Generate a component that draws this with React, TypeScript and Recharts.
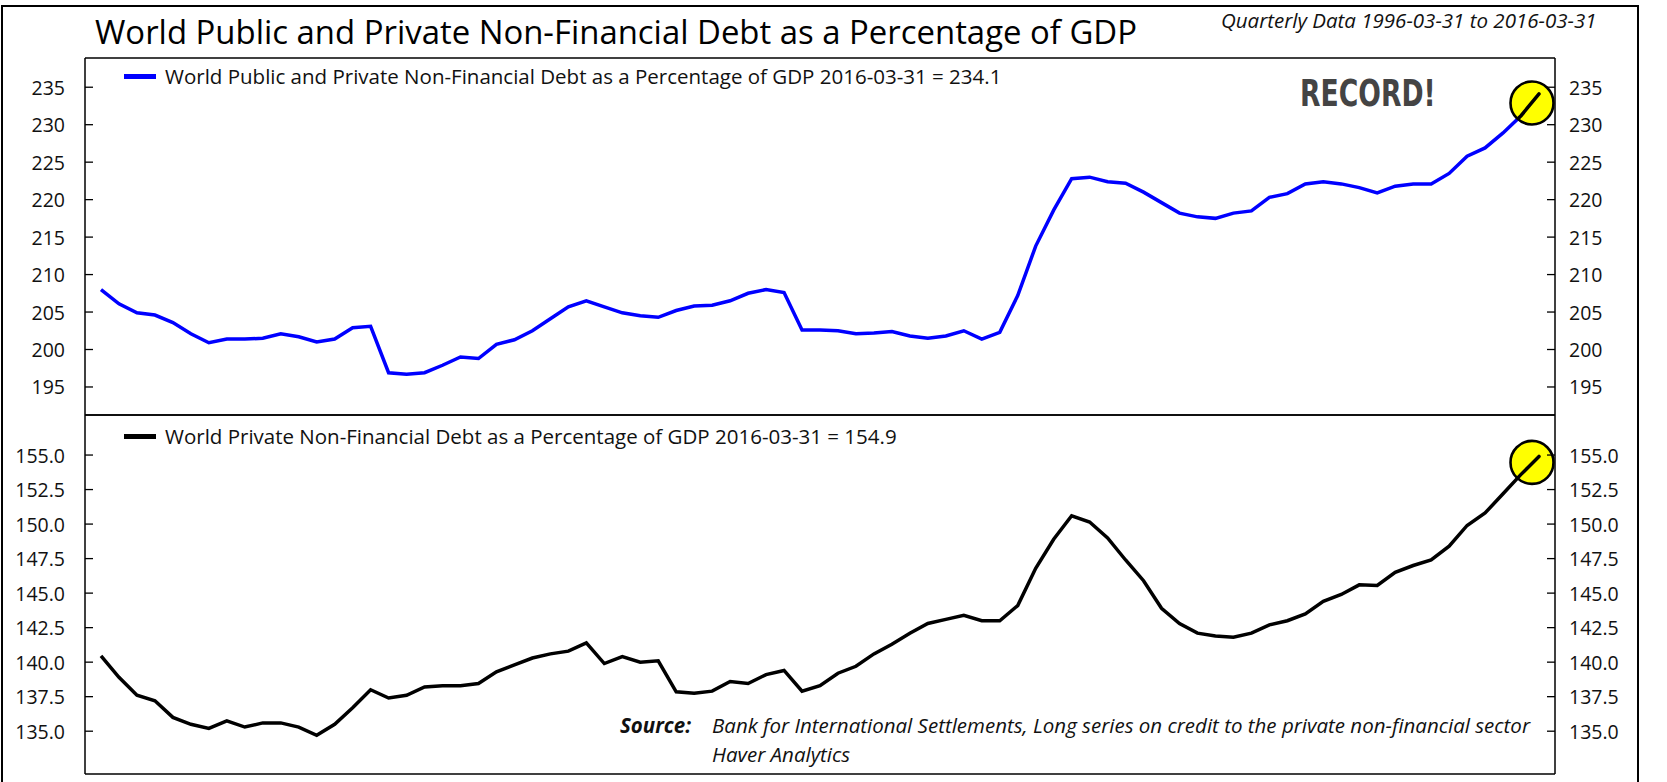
import React from "react"
import { LineChart, Line, XAxis, YAxis } from "recharts"

// quarterly dates 1996-03-31 .. 2016-03-31
const QUARTER_ENDS = ["03-31", "06-30", "09-30", "12-31"]
const dates: string[] = []
for (let y = 1996; y <= 2016; y++) {
  for (const q of QUARTER_ENDS) {
    if (y === 2016 && q !== "03-31") break
    dates.push(`${y}-${q}`)
  }
}

// World public + private non-financial debt, % of GDP
const totalDebt = [
  208.0, 206.1, 204.9, 204.6, 203.6, 202.1, 200.9, 201.4, 201.4, 201.5,
  202.1, 201.7, 201.0, 201.4, 202.9, 203.1, 196.9, 196.7, 196.9, 197.9,
  199.0, 198.8, 200.7, 201.3, 202.5, 204.1, 205.7, 206.5, 205.7, 204.9,
  204.5, 204.3, 205.2, 205.8, 205.9, 206.5, 207.5, 208.0, 207.6, 202.6,
  202.6, 202.5, 202.1, 202.2, 202.4, 201.8, 201.5, 201.8, 202.5, 201.4,
  202.3, 207.2, 213.8, 218.6, 222.8, 223.0, 222.4, 222.2, 221.0, 219.6,
  218.2, 217.7, 217.5, 218.2, 218.5, 220.3, 220.8, 222.1, 222.4, 222.1,
  221.6, 220.9, 221.8, 222.1, 222.1, 223.5, 225.8, 226.9, 228.9, 231.2,
  234.1,
]

// World private non-financial debt, % of GDP
const privateDebt = [
  140.45, 138.9, 137.6, 137.2, 136.0, 135.5, 135.2, 135.75, 135.3, 135.6,
  135.6, 135.3, 134.7, 135.5, 136.7, 138.0, 137.4, 137.6, 138.2, 138.3,
  138.3, 138.45, 139.3, 139.8, 140.3, 140.6, 140.8, 141.4, 139.9, 140.4,
  140.0, 140.1, 137.85, 137.75, 137.9, 138.6, 138.45, 139.1, 139.4, 137.9,
  138.3, 139.2, 139.7, 140.6, 141.3, 142.1, 142.8, 143.1, 143.4, 143.0,
  143.0, 144.1, 146.8, 148.9, 150.6, 150.15, 149.0, 147.4, 145.9, 143.9,
  142.8, 142.1, 141.9, 141.8, 142.1, 142.7, 143.0, 143.5, 144.4, 144.9,
  145.6, 145.55, 146.5, 147.0, 147.4, 148.4, 149.9, 150.8, 152.2, 153.6,
  154.9,
]

const topTicks = [195, 200, 205, 210, 215, 220, 225, 230, 235]
const bottomTicks = [135, 137.5, 140, 142.5, 145, 147.5, 150, 152.5, 155]

const last = dates.length - 1
const data = dates.map((date, i) => ({ date, total: totalDebt[i], priv: privateDebt[i] }))

const FONT = "'Open Sans', Lato, sans-serif"
const W = 1667

function LeftTick({ x, y, payload, digits }: any) {
  return (
    <g>
      <line x1={x} x2={x + 8} y1={y} y2={y} stroke="#000" strokeWidth={1.3} />
      <text x={x - 20} y={y} textAnchor="end" dominantBaseline="central" fontFamily={FONT} fontSize={19.5} fill="#111">
        {payload.value.toFixed(digits)}
      </text>
    </g>
  )
}

function RightTick({ x, y, payload, digits }: any) {
  return (
    <g>
      <line x1={x} x2={x - 8} y1={y} y2={y} stroke="#000" strokeWidth={1.3} />
      <text x={x + 14} y={y} textAnchor="start" dominantBaseline="central" fontFamily={FONT} fontSize={19.5} fill="#111">
        {payload.value.toFixed(digits)}
      </text>
    </g>
  )
}

// yellow "record" marker on the latest point; the line inside it is drawn black
function recordDot(dx: number, dy: number, id: string) {
  const pts: { x: number; y: number }[] = []
  return (p: any) => {
    pts[p.index] = { x: p.cx, y: p.cy }
    if (p.index !== last) return <g key={p.key} />
    const cx = p.cx + dx
    const cy = p.cy + dy
    const tail = [pts[last - 2], pts[last - 1], pts[last]].filter(Boolean).map((q) => `${q.x},${q.y}`).join(" ")
    return (
      <g key={p.key}>
        <defs>
          <clipPath id={id}>
            <circle cx={cx} cy={cy} r={21.5} />
          </clipPath>
        </defs>
        <circle cx={cx} cy={cy} r={21.5} fill="#ffff00" stroke="#000" strokeWidth={2.6} />
        <polyline points={tail} fill="none" stroke="#000" strokeWidth={3.5} strokeLinecap="round" clipPath={`url(#${id})`} />
      </g>
    )
  }
}

function LegendRow({ color, text, top }: { color: string; text: string; top: number }) {
  return (
    <div style={{ position: "absolute", left: 124, top, display: "flex", alignItems: "center", fontFamily: FONT,
      fontSize: 20.5, color: "#111", whiteSpace: "nowrap" }}>
      <span style={{ display: "inline-block", width: 32, height: 5, background: color, marginRight: 9 }} />
      {text}
    </div>
  )
}

const axisLine = { stroke: "#000", strokeWidth: 1.5 }
const xPad = { left: 16, right: 16 }

export default function App() {
  return (
    <div style={{ position: "absolute", left: 0, top: 0, width: W, height: 782, overflow: "hidden", background: "#fff" }}>
      {/* outer frame */}
      <div style={{ position: "absolute", left: 1, top: 5, width: 1634, height: 820, border: "2px solid #000" }} />

      <div style={{ position: "absolute", left: 95, top: 9, fontFamily: FONT, fontSize: 32.9, color: "#000", whiteSpace: "nowrap" }}>
        World Public and Private Non-Financial Debt as a Percentage of GDP
      </div>
      <div style={{ position: "absolute", left: 1221, top: 6, fontFamily: FONT, fontSize: 20.5, fontStyle: "italic", color: "#111", whiteSpace: "nowrap" }}>
        Quarterly Data 1996-03-31 to 2016-03-31
      </div>

      {/* top panel */}
      <div style={{ position: "absolute", left: 0, top: 0 }}>
        <LineChart width={W} height={416} data={data} margin={{ top: 57, right: 32, bottom: 0, left: 5 }}>
          <XAxis dataKey="date" tick={false} tickLine={false} height={1} axisLine={axisLine} padding={xPad} />
          <XAxis xAxisId="top" orientation="top" dataKey="date" tick={false} tickLine={false} height={1} axisLine={axisLine} padding={xPad} />
          <YAxis yAxisId="l" width={80} domain={[191.26, 238.9]} ticks={topTicks} interval={0} allowDataOverflow
            tickSize={0} tickMargin={0} tickLine={false} axisLine={axisLine} tick={<LeftTick digits={0} />} />
          <YAxis yAxisId="r" orientation="right" width={80} domain={[191.26, 238.9]} ticks={topTicks} interval={0} allowDataOverflow
            tickSize={0} tickMargin={0} tickLine={false} axisLine={axisLine} tick={<RightTick digits={0} />} />
          <Line yAxisId="l" type="linear" dataKey="total" stroke="#0000ff" strokeWidth={3.5} dot={recordDot(-7, 9, "recTop")}
            activeDot={false} isAnimationActive={false} />
        </LineChart>
      </div>

      {/* bottom panel */}
      <div style={{ position: "absolute", left: 0, top: 414 }}>
        <LineChart width={W} height={370} data={data} margin={{ top: 0, right: 32, bottom: 9, left: 5 }}>
          <XAxis dataKey="date" tick={false} tickLine={false} height={1} axisLine={axisLine} padding={xPad} />
          <XAxis xAxisId="top" orientation="top" dataKey="date" tick={false} tickLine={false} height={1} axisLine={axisLine} padding={xPad} />
          <YAxis yAxisId="l" width={80} domain={[131.9, 157.9]} ticks={bottomTicks} interval={0} allowDataOverflow
            tickSize={0} tickMargin={0} tickLine={false} axisLine={axisLine} tick={<LeftTick digits={1} />} />
          <YAxis yAxisId="r" orientation="right" width={80} domain={[131.9, 157.9]} ticks={bottomTicks} interval={0} allowDataOverflow
            tickSize={0} tickMargin={0} tickLine={false} axisLine={axisLine} tick={<RightTick digits={1} />} />
          <Line yAxisId="l" type="linear" dataKey="priv" stroke="#000" strokeWidth={3.5} dot={recordDot(-7, 6, "recBottom")}
            activeDot={false} isAnimationActive={false} />
        </LineChart>
      </div>

      <LegendRow color="#0000ff" top={62} text="World Public and Private Non-Financial Debt as a Percentage of GDP 2016-03-31 = 234.1" />
      <LegendRow color="#000" top={422} text="World Private Non-Financial Debt as a Percentage of GDP 2016-03-31 = 154.9" />

      <div style={{ position: "absolute", left: 1300, top: 72, fontFamily: "'DejaVu Sans Condensed', 'DejaVu Sans', sans-serif",
        fontWeight: 700, fontSize: 37, color: "#444", transform: "scaleX(0.8)", transformOrigin: "left top", whiteSpace: "nowrap" }}>
        RECORD!
      </div>

      <div style={{ position: "absolute", left: 620, top: 711, fontFamily: FONT, fontSize: 20.5, color: "#111", lineHeight: "29px", whiteSpace: "nowrap" }}>
        <span style={{ fontWeight: 700, fontStyle: "italic", display: "inline-block", width: 92 }}>Source:</span>
        <span style={{ fontStyle: "italic" }}>Bank for International Settlements, Long series on credit to the private non-financial sector</span>
        <br />
        <span style={{ display: "inline-block", width: 92 }} />
        <span style={{ fontStyle: "italic" }}>Haver Analytics</span>
      </div>
    </div>
  )
}
